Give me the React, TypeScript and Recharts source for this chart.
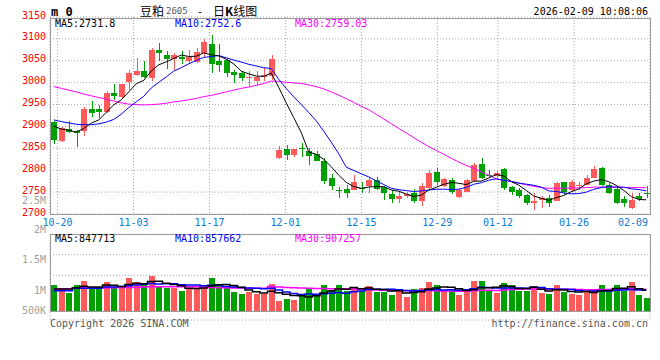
import React from "react";
import { ComposedChart, Bar, Line, XAxis, YAxis, CartesianGrid } from "recharts";

const dates = [
  "10-17", "10-20", "10-21", "10-22", "10-23", "10-24", "10-27", "10-28", "10-29", "10-30", "10-31",
  "11-03", "11-04", "11-05", "11-06", "11-07", "11-10", "11-11", "11-12", "11-13", "11-14",
  "11-17", "11-18", "11-19", "11-20", "11-21", "11-24", "11-25", "11-26", "11-27", "11-28",
  "12-01", "12-02", "12-03", "12-04", "12-05", "12-08", "12-09", "12-10", "12-11", "12-12",
  "12-15", "12-16", "12-17", "12-18", "12-19", "12-22", "12-23", "12-24", "12-25", "12-26",
  "12-29", "12-30", "12-31", "01-05", "01-06", "01-07", "01-08", "01-09",
  "01-12", "01-13", "01-14", "01-15", "01-16", "01-19", "01-20", "01-21", "01-22", "01-23",
  "01-26", "01-27", "01-28", "01-29", "01-30", "02-02", "02-03", "02-04", "02-05", "02-06",
  "02-09",
];

const opens = [
  2910, 2867, 2894, 2889, 2889, 2939, 2939, 2933, 2976, 2968,
  3002, 3017, 3026, 3011, 3074, 3064, 3055, 3059, 3049, 3048,
  3068, 3089, 3049, 3052, 3024, 3021, 3010, 3004, 3014, 3015,
  2827, 2848, 2834, 2850, 2845, 2836, 2822, 2783, 2754, 2756,
  2755, 2759, 2763, 2777, 2761, 2746, 2735, 2740, 2748, 2729,
  2759, 2795, 2763, 2778, 2738, 2751, 2776, 2815, 2790, 2786,
  2803, 2762, 2755, 2744, 2725, 2731, 2736, 2730, 2772, 2754,
  2765, 2767, 2783, 2806, 2767, 2757, 2734, 2713, 2740, 2748,
];
const highs = [
  2912, 2898, 2912, 2891, 2944, 2957, 2950, 2982, 2996, 2997,
  3030, 3057, 3049, 3080, 3090, 3073, 3068, 3073, 3074, 3080,
  3100, 3108, 3088, 3054, 3030, 3026, 3026, 3027, 3035, 3063,
  2855, 2857, 2849, 2862, 2850, 2844, 2828, 2792, 2762, 2766,
  2790, 2774, 2782, 2784, 2763, 2755, 2751, 2750, 2757, 2771,
  2800, 2805, 2782, 2782, 2759, 2779, 2816, 2829, 2801, 2799,
  2806, 2765, 2760, 2746, 2748, 2742, 2744, 2772, 2774, 2778,
  2774, 2790, 2810, 2808, 2771, 2763, 2740, 2748, 2748, 2763,
];
const lows = [
  2861, 2865, 2886, 2852, 2878, 2922, 2920, 2931, 2960, 2966,
  2984, 3016, 3010, 3003, 3050, 3031, 3030, 3042, 3046, 3046,
  3059, 3023, 3025, 3014, 3000, 3004, 2990, 2993, 3004, 3005,
  2826, 2824, 2830, 2831, 2811, 2820, 2769, 2754, 2736, 2737,
  2754, 2748, 2748, 2755, 2731, 2726, 2726, 2736, 2726, 2719,
  2758, 2767, 2762, 2746, 2737, 2750, 2775, 2781, 2784, 2781,
  2755, 2744, 2736, 2721, 2710, 2713, 2717, 2729, 2746, 2752,
  2755, 2766, 2783, 2765, 2746, 2722, 2717, 2712, 2729, 2736,
];
const closes = [
  2870, 2896, 2888, 2884, 2939, 2931, 2932, 2976, 2969, 2996,
  3021, 3026, 3014, 3075, 3068, 3055, 3064, 3054, 3058, 3071,
  3093, 3043, 3040, 3021, 3017, 3010, 3013, 3014, 3018, 3055,
  2846, 2834, 2848, 2848, 2832, 2820, 2776, 2764, 2752, 2749,
  2772, 2757, 2778, 2757, 2748, 2735, 2742, 2746, 2729, 2763,
  2793, 2774, 2780, 2750, 2754, 2778, 2812, 2782, 2786, 2793,
  2760, 2750, 2740, 2726, 2729, 2736, 2725, 2771, 2751, 2772,
  2767, 2783, 2803, 2767, 2749, 2726, 2725, 2732, 2734, 2745,
];

const ma5 = [
  2901, 2894, 2891, 2887, 2895.4, 2907.6, 2914.8, 2932.4, 2949.4, 2960.8,
  2978.8, 2997.6, 3005.2, 3026.4, 3040.8, 3047.6, 3055.2, 3063.2, 3059.8, 3060.4,
  3068, 3063.8, 3061, 3053.6, 3042.8, 3026.2, 3020.2, 3015, 3014.4, 3022,
  2989.2, 2953.4, 2920.2, 2886.2, 2841.6, 2836.4, 2824.8, 2808, 2788.8, 2772.2,
  2762.6, 2758.8, 2761.6, 2762.6, 2762.4, 2755, 2752, 2745.6, 2740, 2743,
  2754.6, 2761, 2767.8, 2772, 2770.2, 2767.2, 2774.8, 2775.2, 2782.4, 2790.2,
  2786.6, 2774.2, 2765.8, 2753.8, 2741, 2736.2, 2731.2, 2737.4, 2742.4, 2751,
  2757.2, 2768.8, 2775.2, 2778.4, 2773.8, 2765.6, 2754, 2739.8, 2733.2, 2732.4,
];
const ma10 = [
  2915, 2911, 2908, 2905, 2904, 2904, 2906, 2910, 2916, 2928.1,
  2943.2, 2956.2, 2968.8, 2987.9, 3000.8, 3013.2, 3026.4, 3034.2, 3043.1, 3050.6,
  3057.8, 3059.5, 3062.1, 3056.7, 3051.6, 3047.1, 3042, 3038, 3034, 3032.4,
  3007.7, 2986.8, 2967.6, 2950.3, 2931.8, 2912.8, 2889.1, 2864.1, 2837.5, 2806.9,
  2799.5, 2791.8, 2784.8, 2775.7, 2767.3, 2758.8, 2755.4, 2753.6, 2751.3, 2752.7,
  2754.8, 2756.5, 2756.7, 2756, 2756.6, 2760.9, 2767.9, 2771.5, 2777.2, 2780.2,
  2776.9, 2774.5, 2770.5, 2768.1, 2765.6, 2761.4, 2752.7, 2751.6, 2748.1, 2746,
  2746.7, 2750, 2756.3, 2760.4, 2762.4, 2761.4, 2761.4, 2757.5, 2755.8, 2753.1,
];
const ma30 = [
  2991, 2987, 2983, 2979, 2974, 2970, 2966, 2962, 2958, 2954,
  2951, 2950, 2949, 2950, 2951, 2953, 2956, 2958, 2961, 2964,
  2968, 2971, 2975, 2979, 2983, 2987, 2990, 2994, 2998, 3003.7,
  3002.9, 3000.8, 2999.5, 2998.3, 2994.7, 2991, 2985.8, 2978.8, 2971.5, 2963.3,
  2955, 2946, 2938.2, 2927.6, 2916.9, 2906.2, 2895.5, 2885.2, 2874.3, 2864,
  2854, 2845, 2836.4, 2827.3, 2818.6, 2810.8, 2804.1, 2796.4, 2788.7, 2779.9,
  2777.1, 2774.3, 2770.7, 2766.6, 2763.2, 2760.4, 2758.7, 2758.9, 2758.9, 2759.6,
  2759.5, 2760.3, 2761.2, 2761.5, 2761.5, 2761.2, 2760.7, 2760.2, 2760.4, 2759.8,
];

// volume in thousands
const volumes = [
  933, 887, 803, 933, 1000, 877, 877, 983, 904, 887,
  1056, 988, 933, 1089, 916, 887, 877, 832, 877, 887,
  933, 1056, 933, 887, 820, 786, 820, 786, 786, 955,
  663, 697, 680, 753, 865, 753, 933, 849, 933, 832,
  899, 832, 916, 820, 820, 764, 849, 736, 865, 887,
  983, 933, 832, 843, 764, 832, 1000, 1000, 832, 803,
  966, 933, 832, 832, 916, 798, 781, 933, 815, 781,
  764, 815, 865, 933, 832, 933, 832, 983, 764, 719,
];
const volMa5 = [
  865, 865, 865, 887, 911.2, 900, 898, 934, 928.2, 905.6,
  941.4, 963.6, 953.6, 990.6, 996.4, 962.6, 940.4, 920.2, 877.8, 872,
  881.2, 917, 937.2, 939.2, 925.8, 896.4, 849.2, 819.8, 799.6, 826.6,
  802, 777.4, 756.2, 749.6, 731.6, 749.6, 796.8, 830.6, 866.6, 860,
  889.2, 869, 882.4, 859.8, 857.4, 830.4, 833.8, 797.8, 806.8, 820.2,
  864, 880.8, 900, 895.6, 871, 840.8, 854.2, 887.8, 885.6, 893.4,
  920.2, 906.8, 873.2, 873.2, 895.8, 862.2, 831.8, 852, 848.6, 821.6,
  814.8, 821.6, 808, 831.6, 841.8, 875.6, 879, 902.6, 868.8, 846.2,
];
const volMa10 = [
  837, 837, 837, 877, 877, 877, 877, 899, 899, 908.4,
  920.7, 930.8, 943.8, 959.4, 951, 952, 952, 936.9, 934.2, 934.2,
  921.9, 928.7, 928.7, 908.5, 898.9, 888.8, 883.1, 878.5, 869.4, 876.2,
  849.2, 813.3, 788, 774.6, 779.1, 775.8, 787.1, 793.4, 808.1, 795.8,
  819.4, 832.9, 856.5, 863.2, 858.7, 859.8, 851.4, 840.1, 833.3, 838.8,
  847.2, 857.3, 848.9, 851.2, 845.6, 852.4, 867.5, 893.9, 890.6, 882.2,
  880.5, 880.5, 880.5, 879.4, 894.6, 891.2, 869.3, 862.6, 860.9, 858.7,
  838.5, 826.7, 830, 840.1, 831.7, 845.2, 850.3, 855.3, 850.2, 844,
];
const volMa30 = [
  865, 866, 868, 884, 886, 887, 887, 888, 888, 889,
  890, 892, 901, 903, 904, 905, 904, 903, 903, 902,
  893, 890, 888, 886, 884, 882, 880, 879, 878, 906.3,
  897.3, 890.9, 886.8, 880.8, 876.3, 872.2, 874.1, 869.6, 870.6, 868.7,
  863.5, 858.3, 857.7, 848.8, 845.6, 841.5, 840.5, 837.3, 836.9, 836.9,
  838.6, 834.5, 831.1, 829.7, 827.8, 829.3, 835.3, 842.5, 844, 838.9,
  849, 856.9, 862, 864.6, 866.3, 867.8, 862.7, 865.5, 861.6, 859.9,
  855.4, 854.8, 853.1, 856.9, 857.3, 862.9, 862.4, 870.6, 867.2, 861.6,
];

const priceTicks = [2700, 2750, 2800, 2850, 2900, 2950, 3000, 3050, 3100, 3150];
const dateTickIndex = [1, 11, 21, 31, 41, 51, 59, 69, 79];
const volumeBase = 500;
const volumeDomain = [343, 1787];
const volumeGridTicks = [1095, 1443];
const volumeAxisLabels = ["2.5M", "2M", "1.5M", "1M", "500K"];

const RED = "#ff5a5a";
const GREEN = "#00a000";
const MONO = "'DejaVu Sans Mono', 'Liberation Mono', monospace";
const CJK = "'Noto Sans CJK SC', sans-serif";
const GRID = "#a8a8a8";

const data = dates.map((d, i) => ({
  idx: i,
  date: d,
  open: opens[i],
  high: highs[i],
  low: lows[i],
  close: closes[i],
  range: [lows[i], highs[i]],
  ma5: ma5[i],
  ma10: ma10[i],
  ma30: ma30[i],
  volume: volumes[i],
  volRange: [volumeBase, volumes[i]],
  vma5: volMa5[i],
  vma10: volMa10[i],
  vma30: volMa30[i],
  up: closes[i] >= opens[i],
}));

const Candle = (props: any) => {
  const { x, y, width, height, payload } = props;
  if (!payload || x == null) return null;
  const top = Math.min(y, y + height);
  const h = Math.abs(height);
  const range = payload.high - payload.low;
  const ratio = range > 0 ? h / range : 0;
  const bTop = top + (payload.high - Math.max(payload.open, payload.close)) * ratio;
  const bBot = top + (payload.high - Math.min(payload.open, payload.close)) * ratio;
  const color = payload.up ? RED : GREEN;
  const rx = Math.round(x);
  const cx = rx + Math.floor(width / 2) + 0.5;
  const bt = Math.round(bTop);
  const bh = Math.max(1, Math.round(bBot) - bt);
  return (
    <g shapeRendering="crispEdges">
      <line x1={cx} x2={cx} y1={top} y2={top + h} stroke={color} strokeWidth={1} />
      <rect x={rx} y={bt} width={Math.round(width)} height={bh} fill={color} />
    </g>
  );
};

const VolBar = (props: any) => {
  const { x, y, width, height, payload } = props;
  if (!payload || x == null) return null;
  const top = Math.min(y, y + height);
  const bot = Math.max(y, y + height);
  return (
    <rect
      x={Math.round(x)}
      y={Math.round(top)}
      width={Math.round(width)}
      height={Math.max(0, Math.round(bot) - Math.round(top))}
      fill={payload.up ? RED : GREEN}
      shapeRendering="crispEdges"
    />
  );
};

const PriceTick = (props: any) => {
  const { y, payload } = props;
  return (
    <text x={46} y={y - 2} textAnchor="end" dominantBaseline="central" fill="#ff0000" fontSize={10} fontFamily={MONO}>
      {payload.value}
    </text>
  );
};

const DateTick = (props: any) => {
  const { x, y, payload } = props;
  const last = payload.value === dates.length - 1;
  return (
    <text
      x={last ? x - 2 : x}
      y={y + 6}
      textAnchor={last ? "end" : "middle"}
      dominantBaseline="central"
      fill="#0a7ad6"
      fontSize={10}
      fontFamily={MONO}
    >
      {dates[payload.value]}
    </text>
  );
};

const T = ({ left, right, cy, size = 10, color = "#000", bold = false, family = MONO, children }: any) => (
  <div
    style={{
      position: "absolute",
      left,
      right,
      top: cy - size / 2,
      fontSize: size,
      lineHeight: `${size}px`,
      height: size,
      color,
      fontWeight: bold ? "bold" : "normal",
      fontFamily: family,
      whiteSpace: "nowrap",
    }}
  >
    {children}
  </div>
);

export default function App() {
  return (
    <div style={{ position: "absolute", left: 0, top: 0, width: 660, height: 360, background: "#fff", overflow: "hidden" }}>
      {/* price panel */}
      <div style={{ position: "absolute", left: 0, top: 0 }}>
        <ComposedChart width={660} height={235} data={data} margin={{ top: 17, right: 10, bottom: 1, left: 0 }}>
          <CartesianGrid xAxisId="t" yAxisId="p" stroke={GRID} strokeDasharray="1 2" />
          <XAxis
            xAxisId="t"
            type="number"
            dataKey="idx"
            domain={[0, dates.length - 1]}
            ticks={dateTickIndex}
            interval={0}
            tick={(p: any) => <DateTick {...p} />}
            tickLine={false}
            axisLine={false}
            tickSize={0}
            height={20}
            allowDataOverflow
          />
          <XAxis xAxisId="c" dataKey="date" hide height={0} />
          <YAxis
            yAxisId="p"
            domain={[2700, 3150]}
            ticks={priceTicks}
            interval={0}
            tick={(p: any) => <PriceTick {...p} />}
            width={50}
            tickLine={false}
            axisLine={false}
            allowDataOverflow
          />
          <Bar xAxisId="c" yAxisId="p" dataKey="range" barSize={6} shape={(p: any) => <Candle {...p} />} isAnimationActive={false} />
          <Line xAxisId="c" yAxisId="p" dataKey="ma30" stroke="#ff00ff" strokeWidth={1} dot={false} isAnimationActive={false} />
          <Line xAxisId="c" yAxisId="p" dataKey="ma10" stroke="#0000ff" strokeWidth={1} dot={false} isAnimationActive={false} />
          <Line xAxisId="c" yAxisId="p" dataKey="ma5" stroke="#000000" strokeWidth={1} dot={false} isAnimationActive={false} />
        </ComposedChart>
      </div>
      <div style={{ position: "absolute", left: 50, top: 18, width: 599, height: 195, border: "1px solid #999", boxSizing: "content-box", pointerEvents: "none" }} />

      {/* volume panel */}
      <div style={{ position: "absolute", left: 0, top: 225 }}>
        <ComposedChart width={660} height={100} data={data} margin={{ top: 9.3, right: 10, bottom: 5, left: 50 }}>
          <CartesianGrid xAxisId="t" yAxisId="v" stroke={GRID} strokeDasharray="1 2" />
          <XAxis xAxisId="t" type="number" dataKey="idx" domain={[0, dates.length - 1]} ticks={dateTickIndex} interval={0} tick={false} tickLine={false} axisLine={false} height={0} allowDataOverflow />
          <XAxis xAxisId="c" dataKey="date" hide height={0} />
          <YAxis yAxisId="v" domain={volumeDomain} ticks={volumeGridTicks} interval={0} hide allowDataOverflow />
          <Bar xAxisId="c" yAxisId="v" dataKey="volRange" barSize={6} shape={(p: any) => <VolBar {...p} />} isAnimationActive={false} />
          <Line xAxisId="c" yAxisId="v" type="step" dataKey="vma30" stroke="#ff00ff" strokeWidth={1.5} dot={false} isAnimationActive={false} />
          <Line xAxisId="c" yAxisId="v" type="step" dataKey="vma10" stroke="#0000ff" strokeWidth={1.5} dot={false} isAnimationActive={false} />
          <Line xAxisId="c" yAxisId="v" type="step" dataKey="vma5" stroke="#000000" strokeWidth={1.5} dot={false} isAnimationActive={false} />
        </ComposedChart>
      </div>
      <div style={{ position: "absolute", left: 50, top: 234, width: 599, height: 76, border: "1px solid #999", borderBottomWidth: 1, boxSizing: "content-box", pointerEvents: "none" }} />
      <div style={{ position: "absolute", left: 51, top: 312, width: 598, height: 9, background: "transparent", pointerEvents: "none" }} />

      {/* header */}
      <T left={51} cy={11.5} size={12} bold>m 0</T>
      <T left={140} cy={10.8} size={12} family={CJK}>豆粕</T>
      <T left={166} cy={11.8} size={9} color="#555">2605</T>
      <T left={197} cy={11.5} size={10}>-</T>
      <T left={213} cy={10.8} size={12} family={CJK}>日<b>K</b>线图</T>
      <T right={12} cy={11.7} size={10}>2026-02-09 10:08:06</T>

      {/* price legend */}
      <T left={55} cy={24.3}>MA5:2731.8</T>
      <T left={175} cy={24.3} color="#0000ff">MA10:2752.6</T>
      <T left={295} cy={24.3} color="#ff00ff">MA30:2759.03</T>

      {/* volume axis labels */}
      <T right={614} cy={200.5} color="#a0a0a0">{volumeAxisLabels[0]}</T>
      <T right={614} cy={230} color="#a0a0a0">{volumeAxisLabels[1]}</T>
      <T right={614} cy={260} color="#a0a0a0">{volumeAxisLabels[2]}</T>
      <T right={614} cy={290.5} color="#a0a0a0">{volumeAxisLabels[3]}</T>
      <T right={614} cy={310.5} color="#a0a0a0">{volumeAxisLabels[4]}</T>

      {/* volume legend */}
      <T left={55} cy={239}>MA5:847713</T>
      <T left={175} cy={239} color="#0000ff">MA10:857662</T>
      <T left={295} cy={239} color="#ff00ff">MA30:907257</T>

      {/* footer */}
      <T left={50} cy={324} color="#555">Copyright 2026 SINA.COM</T>
      <T right={12} cy={324} color="#555">http://finance.sina.com.cn</T>
    </div>
  );
}
